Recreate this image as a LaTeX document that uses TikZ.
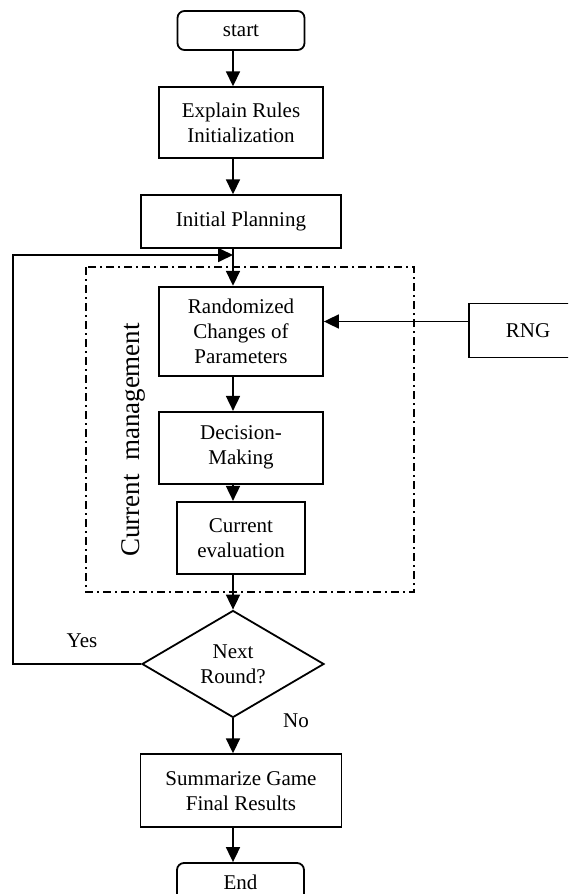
\documentclass[tikz,border=0pt]{standalone}
\usepackage{fontspec}
\setmainfont{Liberation Serif}
\usetikzlibrary{arrows.meta,shapes.geometric}

\begin{document}
\begin{tikzpicture}[
    x=1pt,
    y=-1pt,
    line cap=butt,
    line join=miter,
    every node/.style={font=\fontsize{21}{25}\selectfont},
    stepbox/.style={
        draw,
        line width=1.8pt,
        align=center,
        inner sep=0pt
    },
    termbox/.style={
        stepbox,
        rounded corners=7pt
    },
    testbox/.style={
        draw,
        line width=1.8pt,
        diamond,
        align=center,
        inner sep=0pt,
        minimum width=182pt,
        minimum height=107pt
    },
    flow/.style={
        line width=1.8pt,
        -{Triangle[length=15pt,width=14pt]}
    },
    frame/.style={
        line width=1.8pt,
        dash pattern=on 8pt off 4pt on 2pt off 4pt
    }
]

\useasboundingbox (0,0) rectangle (568,894);
\clip (0,0) rectangle (568,894);

% =========================================================
% Ось потока
% =========================================================

\coordinate (ax) at (233,0);
\coordinate (merge) at (233,255);
\coordinate (back) at (13,255);

% =========================================================
% Блоки
% =========================================================

\node[termbox, minimum width=127pt, minimum height=39pt]
    (start) at (241,30.5) {start};

\node[stepbox, minimum width=164pt, minimum height=71pt]
    (expl) at (241,122.7) {Explain Rules\\Initialization};

\node[stepbox, minimum width=200pt, minimum height=53pt]
    (init) at (241,221.7) {Initial Planning};

\node[stepbox, minimum width=164pt, minimum height=89pt]
    (rand) at (241,331.2) {Randomized\\Changes of\\Parameters};

\node[stepbox, minimum width=164pt, minimum height=72pt]
    (dec) at (241,447.8) {Decision-\\Making};

\node[stepbox, minimum width=128pt, minimum height=72pt]
    (eval) at (241,537.8) {Current\\evaluation};

\node[stepbox, minimum width=118pt, minimum height=54pt]
    (rng) at (528,330.5) {RNG};

\node[testbox]
    (next) at (233,664) {Next\\Round?};

\node[stepbox, minimum width=201pt, minimum height=73pt]
    (summ) at (241,790.7) {Summarize Game\\Final Results};

\node[termbox, minimum width=127pt, minimum height=39pt]
    (end) at (240.5,882.5) {End};

% =========================================================
% Рамка текущего управления
% =========================================================

\draw[frame] (86,267) rectangle (414,592);

\node[rotate=90, font=\fontsize{27}{30}\selectfont]
    (mgmt) at (133,440) {Current\ \ management};

% =========================================================
% Стрелки
% =========================================================

\draw[flow] (ax |- start.south) -- (ax |- expl.north);
\draw[flow] (ax |- expl.south) -- (ax |- init.north);
\draw[flow] (ax |- init.south) -- (ax |- rand.north);
\draw[flow] (ax |- rand.south) -- (ax |- dec.north);
\draw[flow] (ax |- dec.south) -- (ax |- eval.north);
\draw[flow] (ax |- eval.south) -- (next.north);
\draw[flow] (next.south) -- (ax |- summ.north);
\draw[flow] (ax |- summ.south) -- (ax |- end.north);

\draw[flow] ([yshift=9pt]rng.west) -- ([yshift=9pt]rng.west -| rand.east);

\draw[flow] (next.west) -- (next.west -| back) -- (back) -- (merge);

% =========================================================
% Подписи ветвей
% =========================================================

\node (yes) at (82,641) {Yes};
\node (no) at (296,721) {No};

\end{tikzpicture}
\end{document}
